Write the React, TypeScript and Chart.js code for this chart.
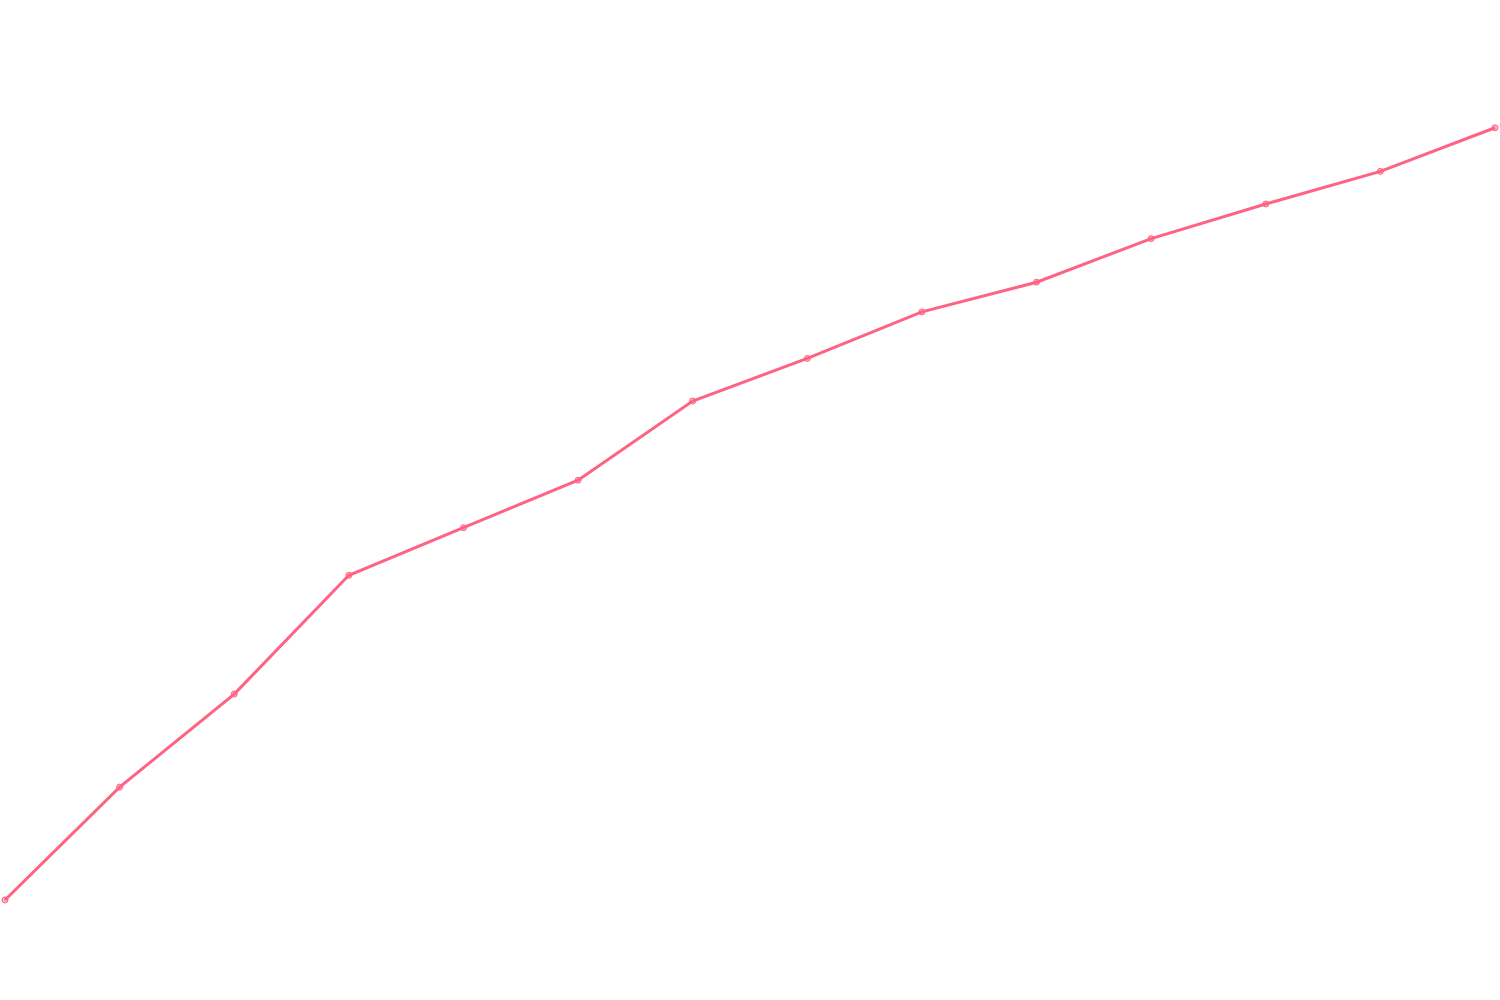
import { useEffect, useRef } from "react"
import { Chart, registerables } from "chart.js"

Chart.register(...registerables)

const labels = ["1", "2", "3", "4", "5", "6", "7", "8", "9", "10", "11", "12", "13", "14"]
const values = [9.6, 21.0, 30.4, 42.4, 47.2, 52.0, 60.0, 64.3, 69.0, 72.0, 76.4, 79.9, 83.2, 87.6]

export default function App() {
  const chartRef = useRef<HTMLCanvasElement>(null)
  const chartInstance = useRef<Chart | null>(null)

  useEffect(() => {
    if (!chartRef.current) return
    const ctx = chartRef.current.getContext("2d")
    if (!ctx) return

    chartInstance.current = new Chart(ctx, {
      type: "line",
      data: {
        labels,
        datasets: [
          {
            data: values,
            borderColor: "rgb(255, 99, 132)",
            backgroundColor: "rgba(255, 99, 132, 0.5)",
            borderWidth: 3,
            pointRadius: 3,
            pointBorderWidth: 1,
          },
        ],
      },
      options: {
        responsive: true,
        maintainAspectRatio: false,
        animation: false,
        plugins: {
          legend: { display: false },
          tooltip: { enabled: false },
        },
        scales: {
          x: { display: false },
          y: { display: false, min: 0, max: 100 },
        },
      },
    })

    return () => {
      chartInstance.current?.destroy()
    }
  }, [])

  return (
    <div style={{ position: "fixed", left: 0, top: 0, width: 1500, height: 1000 }}>
      <canvas ref={chartRef} />
    </div>
  )
}
